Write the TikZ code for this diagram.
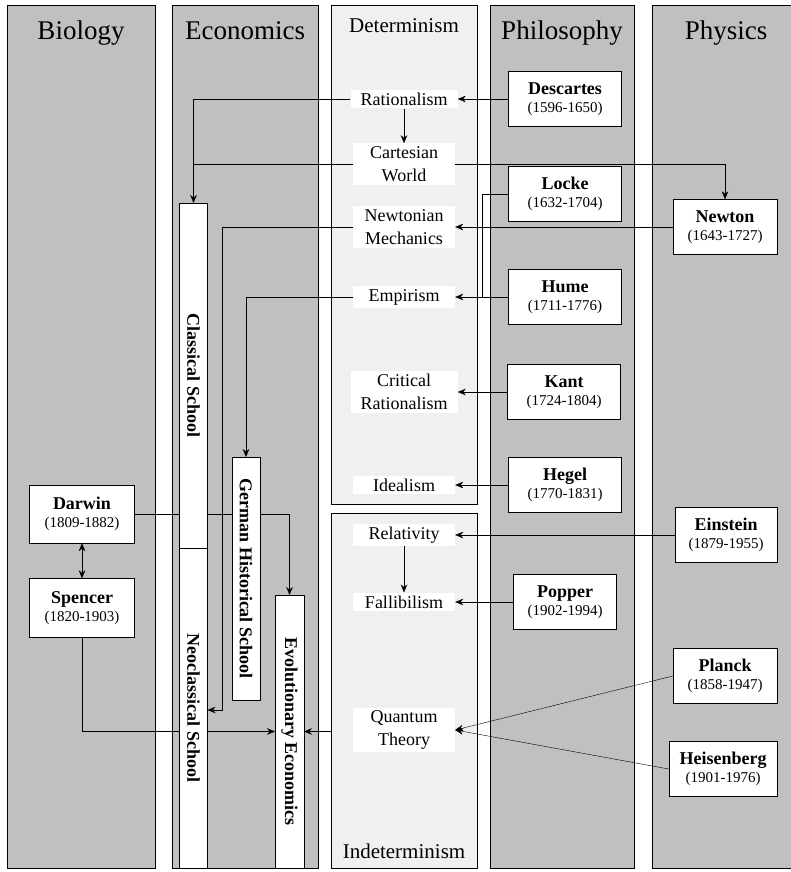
\documentclass[tikz,border=0pt]{standalone}
\usepackage{fontspec}
\setmainfont{Liberation Serif}
\usepackage{graphicx}
\usetikzlibrary{positioning, calc, arrows.meta}
\pgfdeclarelayer{back}
\pgfdeclarelayer{wires}
\pgfsetlayers{back,wires,main}
\definecolor{panelgray}{RGB}{192,192,192}
\definecolor{palegray}{RGB}{240,240,240}
\newcommand{\who}[2]{\textbf{#1}\\[-2pt]{\fontsize{15}{17}\selectfont(#2)}}
\newcommand{\vtext}[1]{\rotatebox{-90}{#1}}

\begin{document}
\begin{tikzpicture}[x=1pt, y=-1pt, line width=1.4pt, >={Stealth[length=8pt,width=6.5pt]},
    panel/.style={draw, fill=panelgray},
    pale/.style={draw, fill=palegray},
    head/.style={anchor=base, font=\fontsize{27}{30}\selectfont},
    subhead/.style={anchor=base, font=\fontsize{21}{24}\selectfont},
    idea/.style={fill=white, align=center, inner xsep=10pt, inner ysep=3pt,
      minimum width=102pt, font=\fontsize{18}{23}\selectfont},
    person/.style={draw, fill=white, align=center, inner sep=0pt,
      minimum width=113pt, minimum height=55pt, font=\fontsize{18}{20}\selectfont},
    school/.style={draw, fill=white, inner sep=0pt, outer sep=0pt, minimum width=28pt,
      font=\bfseries\fontsize{18}{20}\selectfont}]

  \useasboundingbox (0,0) rectangle (791,872);

  \begin{pgfonlayer}{back}
    \draw[panel] (7,5) rectangle (155,868);
    \draw[panel] (172,5) rectangle (318,868);
    \draw[pale] (331,5) rectangle (477,504);
    \draw[pale] (331,513) rectangle (477,868);
    \draw[panel] (490,5) rectangle (634,868);
    \draw[panel] (652,5) rectangle (800,868);
  \end{pgfonlayer}

  \node[head] (hbio) at (81,40) {Biology};
  \node[head] (heco) at (245,40) {Economics};
  \node[subhead] (hdet) at (404,33) {Determinism};
  \node[head] (hphi) at (562,40) {Philosophy};
  \node[head] (hphy) at (726,40) {Physics};
  \node[subhead] (hind) at (404,858) {Indeterminism};

  \node[idea] (rat) at (404,99) {Rationalism};
  \node[idea] (cart) at (404,164) {Cartesian\\World};
  \node[idea] (newt) at (404,227) {Newtonian\\Mechanics};
  \node[idea] (emp) at (404,297) {Empirism};
  \node[idea] (crit) at (404,392) {Critical\\Rationalism};
  \node[idea] (ideal) at (404,485) {Idealism};
  \node[idea] (rel) at (404,535) {Relativity};
  \node[idea] (fall) at (404,602) {Fallibilism};
  \node[idea] (qt) at (404,730) {Quantum\\Theory};

  \node[person] (desc) at (565,99) {\who{Descartes}{1596-1650}};
  \node[person] (locke) at (565,194) {\who{Locke}{1632-1704}};
  \node[person] (hume) at (565,297) {\who{Hume}{1711-1776}};
  \node[person] (kant) at (564,392) {\who{Kant}{1724-1804}};
  \node[person] (hegel) at (565,485) {\who{Hegel}{1770-1831}};
  \node[person, minimum width=103pt] (popper) at (565,602) {\who{Popper}{1902-1994}};

  \node[person, minimum width=104pt] (newton) at (725,227) {\who{Newton}{1643-1727}};
  \node[person, minimum width=102pt] (einstein) at (726,535) {\who{Einstein}{1879-1955}};
  \node[person, minimum width=104pt] (planck) at (725,676) {\who{Planck}{1858-1947}};
  \node[person, minimum width=108pt] (heis) at (723,769) {\who{Heisenberg}{1901-1976}};

  \node[person, minimum width=105pt, minimum height=58pt] (darwin) at (82,514) {\who{Darwin}{1809-1882}};
  \node[person, minimum width=105pt, minimum height=59pt] (spencer) at (82,608) {\who{Spencer}{1820-1903}};

  \node[school, minimum height=345pt] (cls) at (193.5,375.5) {\vtext{Classical School}};
  \node[school, minimum height=320pt, below=0pt of cls] (neo) {\vtext{Neoclassical School}};
  \node[school, minimum height=243pt] (ger) at (246,578.5) {\vtext{German Historical School}};
  \node[school, minimum width=29pt, minimum height=273pt] (evo) at (289.5,731.5) {\vtext{Evolutionary Economics}};

  \begin{pgfonlayer}{wires}
    \draw[->] (desc) -- (rat);
    \draw[->] (rat) -- (cart);
    \draw[->] (rat.west) -| (cls.north);
    \draw (cart.west) -- (cart.west -| cls.north);
    \draw[->] (cart.east) -| (newton.north);
    \draw[->] (newton) -- (newt);
    \coordinate (nbend) at (222,710);
    \draw[->] (newt.west) -| (nbend) -- (nbend -| neo.east);
    \coordinate (lbend) at ([xshift=-26pt]locke.west |- hume.west);
    \draw (locke.west) -| (lbend);
    \draw[->] (hume) -- (emp);
    \draw[->] (emp.west) -| (ger.north);
    \draw[->] (kant) -- (crit);
    \draw[->] (hegel) -- (ideal);
    \draw[->] (einstein) -- (rel);
    \draw[->] (rel) -- (fall);
    \draw[->] (popper) -- (fall);
    \draw[->] (planck.west) -- (qt.east);
    \draw[->] (heis.west) -- (qt.east);
    \draw[<->] (darwin) -- (spencer);
    \draw[->] (darwin.east) -| (evo.north);
    \draw[->] (spencer.south) |- (evo.west);
    \coordinate (indl) at (331,0);
    \draw[->] (indl |- evo.east) -- (evo.east);
  \end{pgfonlayer}
\end{tikzpicture}
\end{document}
